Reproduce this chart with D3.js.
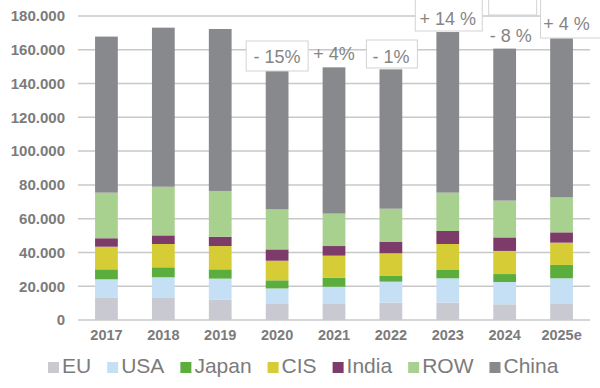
<!DOCTYPE html>
<html>
<head>
<meta charset="utf-8">
<script src="https://cdn.jsdelivr.net/npm/d3@7"></script>
<style>
    html, body { margin: 0; padding: 0; background: #fff; }
    svg { display: block; font-family: Arial, "Liberation Sans", sans-serif; }
</style>
</head>
<body>
<svg id="chart" width="600" height="388"></svg>
<script>
// values in tonnes
const years = ['2017', '2018', '2019', '2020', '2021', '2022', '2023', '2024', '2025e']
const regions = ['EU', 'USA', 'Japan', 'CIS', 'India', 'ROW', 'China']

const eu    = [13400, 13400, 12200,  9900,  9900, 10300, 10300,  9300,  9900]
const usa   = [10700, 11900, 12300,  8800,  9800, 12400, 14400, 13200, 14800]
const japan = [ 5900,  5900,  5500,  4800,  5400,  3400,  4900,  4700,  7900]
const cis   = [13400, 13800, 13800, 11600, 13000, 13400, 15400, 13700, 13200]
const india = [ 5000,  5100,  5500,  6700,  5700,  6900,  7700,  8000,  6100]
const row   = [27000, 28800, 27100, 23700, 19200, 19500, 22700, 21800, 20700]
const china = [92400, 94200, 95900, 82500, 86600, 82500, 95100, 90000, 94200]

const changeLabels = ['', '', '', '- 15%', '+ 4%', '- 1%', '+ 14 %', '- 8 %', '+ 4 %']
const yTicks = [0, 20000, 40000, 60000, 80000, 100000, 120000, 140000, 160000, 180000]

const colors = {
    EU: '#c9c9d1',
    USA: '#c5e0f5',
    Japan: '#5bad3d',
    CIS: '#d5cc36',
    India: '#7c3b69',
    ROW: '#a8d08e',
    China: '#87898d'
}
const textGrey = '#7b7b7b'

const series = { EU: eu, USA: usa, Japan: japan, CIS: cis, India: india, ROW: row, China: china }
const table = years.map((year, i) => {
    const row = { year: year }
    regions.forEach((r) => { row[r] = series[r][i] })
    return row
})

const margin = { left: 78, right: 10, top: 16, bottom: 68 }
const width = 600, height = 388

const svg = d3.select('#chart')

const x = d3.scaleBand()
    .domain(years)
    .range([margin.left, width - margin.right])
    .paddingInner(0.6)
    .paddingOuter(0.3)

const y = d3.scaleLinear()
    .domain([0, 180000])
    .range([height - margin.bottom, margin.top])

const locale = d3.formatLocale({ decimal: ',', thousands: '.', grouping: [3], currency: ['', ''] })
const fmt = locale.format(',')

// gridlines
svg.append('g')
    .attr('class', 'grid')
    .selectAll('line')
    .data(yTicks)
    .enter().append('line')
    .attr('x1', margin.left)
    .attr('x2', width - margin.right)
    .attr('y1', (d) => y(d))
    .attr('y2', (d) => y(d))
    .attr('stroke', '#c8c8c8')
    .attr('stroke-width', 1.5)

// y axis labels
const yAxis = svg.append('g')
    .attr('class', 'y-axis')
    .attr('transform', `translate(${margin.left - 13},0)`)
    .call(d3.axisLeft(y).tickValues(yTicks).tickFormat(fmt).tickSize(0).tickPadding(0))

yAxis.select('.domain').remove()
yAxis.selectAll('text')
    .attr('fill', textGrey)
    .attr('font-size', '15px')
    .attr('font-weight', 'bold')
    .attr('font-family', 'Arial, "Liberation Sans", sans-serif')

// stacked bars
const stack = d3.stack().keys(regions)(table)

svg.append('g')
    .attr('class', 'bars')
    .selectAll('g')
    .data(stack)
    .enter().append('g')
    .attr('fill', (d) => colors[d.key])
    .selectAll('rect')
    .data((d) => d)
    .enter().append('rect')
    .attr('x', (d) => x(d.data.year))
    .attr('width', x.bandwidth())
    .attr('y', (d) => y(d[1]))
    .attr('height', (d) => y(d[0]) - y(d[1]))

// x axis labels
const xAxis = svg.append('g')
    .attr('class', 'x-axis')
    .attr('transform', `translate(0,${height - margin.bottom + 10})`)
    .call(d3.axisBottom(x).tickSize(0).tickPadding(0))

xAxis.select('.domain').remove()
xAxis.selectAll('text')
    .attr('fill', textGrey)
    .attr('font-size', '14.5px')
    .attr('font-weight', 'bold')
    .attr('font-family', 'Arial, "Liberation Sans", sans-serif')

// change labels, some of them sit in white boxes
const labelLayout = {
    '2020':  { baseline: 63, box: { dx: 0,  w: 62, top: 41, bottom: 71 } },
    '2021':  { baseline: 60 },
    '2022':  { baseline: 63, box: { dx: 1,  w: 51, top: 40, bottom: 68 } },
    '2023':  { baseline: 25, box: { dx: 1,  w: 67, top: -4, bottom: 31 } },
    '2024':  { baseline: 42, box: { dx: 8,  w: 48, top: -10, bottom: 15 }, dx: 6 },
    '2025e': { baseline: 30, box: { dx: 10, w: 62, top: -10, bottom: 38 }, dx: 5 }
}

const labels = svg.append('g')
    .attr('class', 'change-labels')
    .selectAll('g')
    .data(years.map((year, i) => ({ year: year, text: changeLabels[i] })).filter((d) => d.text))
    .enter().append('g')
    .attr('transform', (d) => `translate(${x(d.year) + x.bandwidth() / 2},0)`)

labels.filter((d) => labelLayout[d.year].box)
    .append('rect')
    .attr('x', (d) => labelLayout[d.year].box.dx - labelLayout[d.year].box.w / 2)
    .attr('width', (d) => labelLayout[d.year].box.w)
    .attr('y', (d) => labelLayout[d.year].box.top)
    .attr('height', (d) => labelLayout[d.year].box.bottom - labelLayout[d.year].box.top)
    .attr('fill', '#fff')
    .attr('stroke', '#d3d3d3')
    .attr('stroke-width', 1)

labels.append('text')
    .attr('x', (d) => labelLayout[d.year].dx || 0)
    .attr('y', (d) => labelLayout[d.year].baseline)
    .attr('text-anchor', 'middle')
    .attr('fill', '#858585')
    .attr('font-size', '18px')
    .text((d) => d.text)

// legend
const legend = svg.append('g')
    .attr('class', 'legend')
    .attr('transform', `translate(0,373)`)

let cursor = 48
regions.forEach((r) => {
    const item = legend.append('g').attr('transform', `translate(${cursor},0)`)
    item.append('rect')
        .attr('x', 0)
        .attr('y', -11)
        .attr('width', 11)
        .attr('height', 11)
        .attr('fill', colors[r])
    const label = item.append('text')
        .attr('x', 14)
        .attr('y', 0)
        .attr('fill', textGrey)
        .attr('font-size', '21px')
        .text(r)
    cursor += 14 + label.node().getComputedTextLength() + 16
})
</script>
</body>
</html>
